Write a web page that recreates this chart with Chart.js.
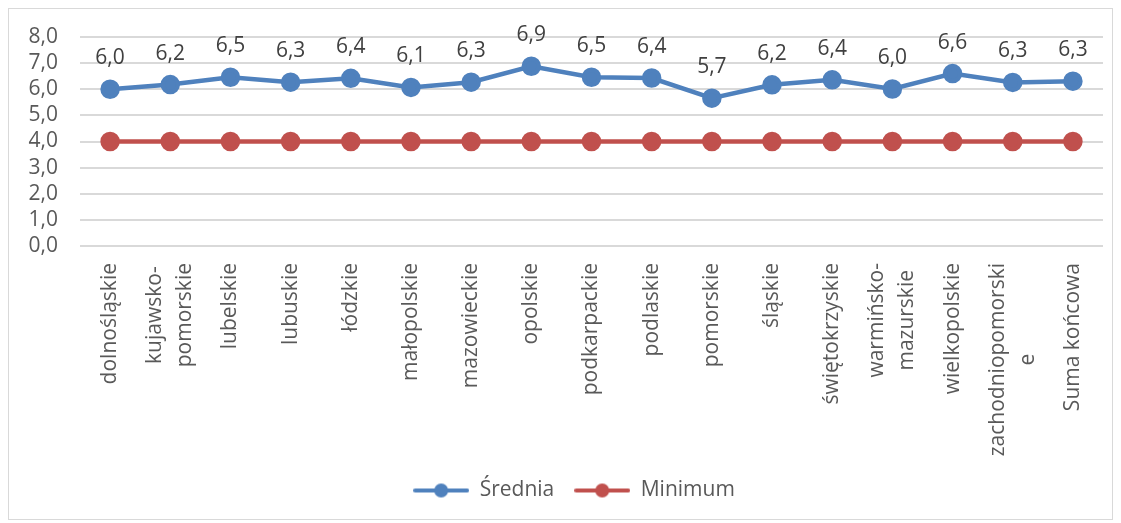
<!DOCTYPE html>
<html>
<head>
<meta charset="utf-8">
<script src="https://cdn.jsdelivr.net/npm/chart.js@4/dist/chart.umd.min.js"></script>
<style>
  html, body { margin: 0; background: #fff; }
</style>
</head>
<body>
<canvas id="chart" width="1121" height="523"></canvas>
<script>
// Data
const regions = [
  "dolnośląskie", ["kujawsko-", "pomorskie"], "lubelskie", "lubuskie", "łódzkie",
  "małopolskie", "mazowieckie", "opolskie", "podkarpackie", "podlaskie",
  "pomorskie", "śląskie", "świętokrzyskie", ["warmińsko-", "mazurskie"],
  "wielkopolskie", ["zachodniopomorski", "e"], "Suma końcowa"
];
const srednia = [6.0, 6.18, 6.46, 6.27, 6.42, 6.07, 6.27, 6.88, 6.46, 6.43, 5.66, 6.17, 6.36, 6.01, 6.6, 6.26, 6.31];
const minimum = [4, 4, 4, 4, 4, 4, 4, 4, 4, 4, 4, 4, 4, 4, 4, 4, 4];
const seriesNames = ["Średnia", "Minimum"];
const yMin = 0, yMax = 8, yStep = 1;

const BLUE = "#4f81bd";
const RED = "#c0504d";
const FONT = "'Open Sans', sans-serif";
const fmt = v => v.toFixed(1).replace(".", ",");

// legend marker: short line with a dot, like Excel
function marker(color) {
  const c = document.createElement("canvas");
  c.width = 56; c.height = 16;
  const g = c.getContext("2d");
  g.strokeStyle = color; g.lineWidth = 4; g.lineCap = "round";
  g.beginPath(); g.moveTo(2, 8); g.lineTo(54, 8); g.stroke();
  g.fillStyle = color;
  g.beginPath(); g.arc(28, 8, 7, 0, Math.PI * 2); g.fill();
  return c;
}
const markers = [marker(BLUE), marker(RED)];

const frame = {
  id: "frame",
  beforeDraw(chart) {
    const ctx = chart.ctx;
    ctx.save();
    ctx.strokeStyle = "#d9d9d9";
    ctx.lineWidth = 1;
    ctx.strokeRect(8.5, 8.5, 1104, 511);
    ctx.restore();
  },
  // Excel centres the legend a bit to the right of the canvas middle
  afterLayout(chart) {
    chart.legend.left += 18;
    chart.legend.right += 18;
  }
};

// value labels above the Średnia points
const valueLabels = {
  id: "valueLabels",
  afterDatasetsDraw(chart) {
    const ctx = chart.ctx;
    const meta = chart.getDatasetMeta(0);
    ctx.save();
    ctx.font = "21px " + FONT;
    ctx.fillStyle = "#404040";
    ctx.textAlign = "center";
    ctx.textBaseline = "middle";
    meta.data.forEach((p, i) => ctx.fillText(fmt(srednia[i]), p.x, p.y - 31));
    ctx.restore();
  }
};

// vertical category labels, lines centred like Excel does it
const catLabels = {
  id: "catLabels",
  afterDraw(chart) {
    const ctx = chart.ctx;
    const xs = chart.scales.x;
    const top = xs.top + 17;
    const lh = 30;
    ctx.save();
    ctx.font = "21px " + FONT;
    ctx.fillStyle = "#595959";
    ctx.textAlign = "center";
    ctx.textBaseline = "middle";
    regions.forEach((lab, i) => {
      const lines = Array.isArray(lab) ? lab : [lab];
      const L = Math.max(...lines.map(t => ctx.measureText(t).width));
      ctx.save();
      ctx.translate(xs.getPixelForTick(i), top);
      ctx.rotate(-Math.PI / 2);
      lines.forEach((t, j) => ctx.fillText(t, -L / 2, (j - (lines.length - 1) / 2) * lh));
      ctx.restore();
    });
    ctx.restore();
  }
};

new Chart(document.getElementById("chart").getContext("2d"), {
  type: "line",
  data: {
    labels: regions,
    datasets: [
      {
        label: seriesNames[0],
        data: srednia,
        borderColor: BLUE,
        backgroundColor: BLUE,
        borderWidth: 4.5,
        pointRadius: 7.5,
        pointHoverRadius: 7.5,
        tension: 0
      },
      {
        label: seriesNames[1],
        data: minimum,
        borderColor: RED,
        backgroundColor: RED,
        borderWidth: 4.5,
        pointRadius: 7.5,
        pointHoverRadius: 7.5,
        tension: 0
      }
    ]
  },
  options: {
    responsive: false,
    animation: false,
    layout: { padding: { left: 9, right: 18, top: 37, bottom: 12 } },
    scales: {
      y: {
        min: yMin,
        max: yMax,
        ticks: {
          stepSize: yStep,
          autoSkip: false,
          color: "#595959",
          font: { family: FONT, size: 21 },
          padding: 22,
          callback: v => fmt(v)
        },
        grid: { color: "#d9d9d9", lineWidth: 2, drawTicks: false },
        border: { display: false },
        afterFit: s => { s.width = 71; }
      },
      x: {
        offset: true,
        grid: { display: false },
        border: { display: false },
        ticks: { display: false, autoSkip: false },
        afterFit: s => { s.height = 214; }
      }
    },
    plugins: {
      tooltip: { enabled: false },
      legend: {
        position: "bottom",
        labels: {
          usePointStyle: true,
          pointStyleWidth: 56,
          padding: 20,
          color: "#595959",
          font: { family: FONT, size: 21 },
          generateLabels: chart =>
            Chart.defaults.plugins.legend.labels.generateLabels(chart)
              .map(l => Object.assign(l, { pointStyle: markers[l.datasetIndex] }))
        }
      }
    }
  },
  plugins: [frame, valueLabels, catLabels]
});
</script>
</body>
</html>
